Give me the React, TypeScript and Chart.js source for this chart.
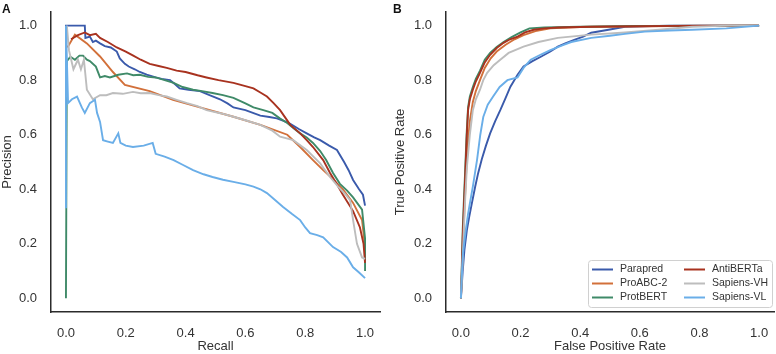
import React, { useEffect, useRef } from "react";
import { Chart, registerables } from "chart.js";

Chart.register(...registerables);

const FONT = 'Arial, "Liberation Sans", Helvetica, sans-serif';
const TEXT = "#333333";

const seriesLabels = ["Parapred", "ProABC-2", "ProtBERT", "AntiBERTa", "Sapiens-VH", "Sapiens-VL"];
const seriesColors = ["#3a5aab", "#d2703a", "#3f8a68", "#a8321f", "#bdbdbd", "#6aaee8"];
const tickValues = [0, 0.2, 0.4, 0.6, 0.8, 1.0];

// Precision-recall curves: [recall, precision]
const parapredPR = [
  [0, 0.34], [0, 1.0], [0.063, 1.0], [0.065, 0.955], [0.08, 0.96], [0.09, 0.94], [0.1, 0.945], [0.114, 0.935],
  [0.13, 0.925], [0.15, 0.92], [0.17, 0.905], [0.18, 0.88], [0.197, 0.86], [0.21, 0.85], [0.23, 0.84],
  [0.247, 0.83], [0.27, 0.82], [0.3, 0.81], [0.32, 0.805], [0.348, 0.8], [0.365, 0.785], [0.38, 0.77],
  [0.41, 0.765], [0.448, 0.76], [0.48, 0.745], [0.515, 0.73], [0.54, 0.715], [0.56, 0.7], [0.6, 0.69],
  [0.65, 0.67], [0.68, 0.665], [0.705, 0.66], [0.73, 0.65], [0.75, 0.64], [0.78, 0.62], [0.805, 0.605],
  [0.83, 0.59], [0.85, 0.58], [0.88, 0.56], [0.906, 0.544], [0.93, 0.5], [0.945, 0.47], [0.96, 0.434],
  [0.98, 0.4], [0.993, 0.38], [1.0, 0.34],
];
const proabcPR = [
  [0.005, 0.92], [0.03, 0.967], [0.07, 0.935], [0.114, 0.887], [0.157, 0.83], [0.197, 0.783],
  [0.28, 0.76], [0.358, 0.728], [0.448, 0.7], [0.56, 0.666], [0.65, 0.636], [0.74, 0.6],
  [0.783, 0.555], [0.826, 0.507], [0.86, 0.47], [0.89, 0.44], [0.926, 0.4], [0.96, 0.35],
  [0.99, 0.287], [1.0, 0.19], [1.0, 0.13],
];
const protbertPR = [
  [0, 0], [0.003, 0.87], [0.015, 0.886], [0.03, 0.875], [0.045, 0.89], [0.057, 0.89], [0.07, 0.875],
  [0.08, 0.87], [0.1, 0.85], [0.114, 0.81], [0.13, 0.815], [0.147, 0.81], [0.175, 0.82], [0.204, 0.825],
  [0.225, 0.818], [0.247, 0.82], [0.275, 0.812], [0.3, 0.81], [0.33, 0.8], [0.36, 0.79], [0.39, 0.775],
  [0.425, 0.765], [0.455, 0.76], [0.49, 0.753], [0.525, 0.745], [0.56, 0.735], [0.6, 0.715], [0.627, 0.7],
  [0.66, 0.69], [0.69, 0.68], [0.715, 0.66], [0.74, 0.643], [0.76, 0.625], [0.783, 0.605], [0.805, 0.59],
  [0.826, 0.57], [0.85, 0.54], [0.87, 0.507], [0.893, 0.46], [0.916, 0.42], [0.94, 0.395], [0.96, 0.37],
  [0.99, 0.325], [1.0, 0.22], [1.0, 0.1],
];
const antibertaPR = [
  [0.017, 0.95], [0.04, 0.965], [0.063, 0.975], [0.08, 0.965], [0.1, 0.97], [0.114, 0.955], [0.14, 0.94],
  [0.17, 0.92], [0.2, 0.905], [0.225, 0.89], [0.25, 0.875], [0.28, 0.86], [0.31, 0.852], [0.337, 0.845],
  [0.37, 0.835], [0.4, 0.83], [0.44, 0.818], [0.47, 0.81], [0.51, 0.8], [0.56, 0.79], [0.6, 0.778],
  [0.627, 0.77], [0.65, 0.755], [0.672, 0.74], [0.695, 0.715], [0.716, 0.69], [0.735, 0.66], [0.75, 0.636],
  [0.783, 0.605], [0.805, 0.58], [0.826, 0.555], [0.86, 0.507], [0.883, 0.46], [0.905, 0.42], [0.926, 0.38],
  [0.96, 0.32], [0.983, 0.26], [0.995, 0.2], [1.0, 0.13],
];
const sapiensVhPR = [
  [0.003, 1.0], [0.01, 0.91], [0.025, 0.84], [0.04, 0.875], [0.05, 0.84], [0.06, 0.875], [0.07, 0.765],
  [0.09, 0.73], [0.114, 0.745], [0.135, 0.745], [0.157, 0.753], [0.19, 0.75], [0.224, 0.757], [0.25, 0.752],
  [0.28, 0.753], [0.31, 0.745], [0.337, 0.74], [0.37, 0.728], [0.405, 0.716], [0.44, 0.705], [0.47, 0.69],
  [0.52, 0.678], [0.56, 0.666], [0.6, 0.653], [0.65, 0.636], [0.69, 0.615], [0.716, 0.593], [0.76, 0.58],
  [0.805, 0.544], [0.85, 0.495], [0.883, 0.445], [0.91, 0.41], [0.935, 0.38], [0.95, 0.36], [0.96, 0.287],
  [0.973, 0.2], [0.99, 0.15], [1.0, 0.145],
];
const sapiensVlPR = [
  [0, 0.33], [0, 1.0], [0.007, 0.716], [0.02, 0.73], [0.037, 0.74], [0.053, 0.7], [0.063, 0.68],
  [0.08, 0.716], [0.097, 0.728], [0.104, 0.68], [0.114, 0.647], [0.124, 0.58], [0.14, 0.575], [0.157, 0.57],
  [0.175, 0.605], [0.182, 0.57], [0.2, 0.56], [0.224, 0.555], [0.26, 0.56], [0.29, 0.57], [0.3, 0.53],
  [0.33, 0.52], [0.36, 0.507], [0.39, 0.49], [0.425, 0.47], [0.46, 0.455], [0.49, 0.445], [0.525, 0.435],
  [0.56, 0.427], [0.6, 0.418], [0.627, 0.41], [0.65, 0.4], [0.672, 0.386], [0.7, 0.36], [0.726, 0.335],
  [0.755, 0.31], [0.783, 0.287], [0.8, 0.26], [0.816, 0.239], [0.84, 0.232], [0.86, 0.224], [0.893, 0.188],
  [0.92, 0.17], [0.94, 0.15], [0.96, 0.114], [0.98, 0.095], [1.0, 0.074],
];

// ROC curves: [false positive rate, true positive rate]
const parapredROC = [
  [0, 0], [0.006, 0.1], [0.012, 0.18], [0.02, 0.25], [0.028, 0.3], [0.037, 0.35], [0.048, 0.41],
  [0.058, 0.46], [0.07, 0.51], [0.084, 0.56], [0.098, 0.605], [0.115, 0.65], [0.132, 0.69], [0.15, 0.735],
  [0.166, 0.776], [0.19, 0.82], [0.21, 0.85], [0.24, 0.87], [0.268, 0.886], [0.3, 0.905], [0.325, 0.923],
  [0.35, 0.935], [0.38, 0.948], [0.41, 0.96], [0.437, 0.974], [0.495, 0.985], [0.55, 0.996], [0.7, 1.0], [1.0, 1.0],
];
const proabcROC = [
  [0, 0], [0.004, 0.1], [0.008, 0.22], [0.012, 0.33], [0.018, 0.47], [0.024, 0.58], [0.03, 0.65],
  [0.04, 0.72], [0.05, 0.76], [0.064, 0.8], [0.08, 0.845], [0.1, 0.88], [0.12, 0.905], [0.15, 0.93],
  [0.18, 0.95], [0.21, 0.965], [0.25, 0.98], [0.3, 0.99], [0.4, 0.995], [0.6, 0.998], [1.0, 1.0],
];
const protbertROC = [
  [0, 0], [0.003, 0.12], [0.006, 0.25], [0.01, 0.36], [0.014, 0.46], [0.019, 0.6], [0.024, 0.7],
  [0.03, 0.74], [0.04, 0.775], [0.05, 0.805], [0.064, 0.835], [0.08, 0.875], [0.098, 0.9], [0.12, 0.922],
  [0.143, 0.94], [0.17, 0.958], [0.2, 0.975], [0.23, 0.99], [0.28, 0.993], [0.4, 0.996], [0.6, 0.999], [1.0, 1.0],
];
const antibertaROC = [
  [0, 0], [0.003, 0.1], [0.006, 0.22], [0.01, 0.33], [0.014, 0.434], [0.019, 0.58], [0.024, 0.69],
  [0.03, 0.73], [0.04, 0.765], [0.05, 0.795], [0.064, 0.827], [0.08, 0.865], [0.098, 0.893], [0.12, 0.918],
  [0.143, 0.937], [0.165, 0.95], [0.19, 0.96], [0.215, 0.975], [0.244, 0.985], [0.28, 0.99], [0.325, 0.993],
  [0.437, 0.996], [0.6, 0.998], [0.8, 1.0], [1.0, 1.0],
];
const sapiensVhROC = [
  [0, 0], [0.005, 0.12], [0.01, 0.26], [0.015, 0.38], [0.02, 0.48], [0.03, 0.6], [0.04, 0.69],
  [0.05, 0.73], [0.064, 0.765], [0.075, 0.8], [0.088, 0.827], [0.11, 0.855], [0.132, 0.875], [0.16, 0.9],
  [0.21, 0.923], [0.26, 0.94], [0.325, 0.955], [0.437, 0.967], [0.55, 0.975], [0.664, 0.985], [0.776, 0.996],
  [0.9, 1.0], [1.0, 1.0],
];
const sapiensVlROC = [
  [0, 0], [0.003, 0.08], [0.007, 0.165], [0.015, 0.24], [0.024, 0.31], [0.032, 0.36], [0.04, 0.41],
  [0.054, 0.507], [0.065, 0.6], [0.075, 0.665], [0.09, 0.71], [0.108, 0.74], [0.13, 0.775], [0.156, 0.8],
  [0.19, 0.81], [0.21, 0.845], [0.234, 0.875], [0.27, 0.895], [0.3, 0.91], [0.34, 0.928], [0.37, 0.94],
  [0.437, 0.955], [0.5, 0.963], [0.55, 0.97], [0.617, 0.978], [0.7, 0.982], [0.776, 0.985], [0.89, 0.99], [1.0, 1.0],
];

const prCurves = [parapredPR, proabcPR, protbertPR, antibertaPR, sapiensVhPR, sapiensVlPR];
const rocCurves = [parapredROC, proabcROC, protbertROC, antibertaROC, sapiensVhROC, sapiensVlROC];

function makeDatasets(curves: number[][][]) {
  return curves.map((c, i) => ({
    label: seriesLabels[i],
    data: c.map(([x, y]) => ({ x, y })),
    borderColor: seriesColors[i],
    backgroundColor: seriesColors[i],
    borderWidth: 1.9,
    pointRadius: 0,
    fill: false,
    tension: 0,
    order: curves.length - i,
  }));
}

function axis(title: string, isX: boolean, size: number, titlePad: number) {
  return {
    type: "linear",
    min: -0.05,
    max: 1.05,
    afterBuildTicks: (s: any) => {
      s.ticks = tickValues.map((v) => ({ value: v }));
    },
    afterFit: (s: any) => {
      if (isX) {
        s.height = size;
        s.paddingLeft = 0;
        s.paddingRight = 0;
      } else {
        s.width = size;
        s.paddingTop = 0;
        s.paddingBottom = 0;
      }
    },
    ticks: {
      font: { family: FONT, size: 13 },
      color: TEXT,
      padding: 14,
      maxRotation: 0,
      autoSkip: false,
      callback: (v: any) => Number(v).toFixed(1),
    },
    grid: { display: false, drawTicks: false },
    border: { display: true, color: "#2b2b2b", width: 1.5 },
    title: {
      display: true,
      text: title,
      color: TEXT,
      font: { family: FONT, size: 13 },
      padding: { top: titlePad, bottom: titlePad },
    },
  };
}

const boxLegend = {
  id: "boxLegend",
  afterDatasetsDraw(chart: any) {
    const ctx = chart.ctx;
    const ca = chart.chartArea;
    const w = 184;
    const h = 47;
    const x0 = ca.right - w - 2;
    const y0 = ca.bottom - h - 5;
    ctx.save();
    ctx.beginPath();
    if (ctx.roundRect) ctx.roundRect(x0 + 0.5, y0 + 0.5, w, h, 3);
    else ctx.rect(x0 + 0.5, y0 + 0.5, w, h);
    ctx.fillStyle = "rgba(255,255,255,0.85)";
    ctx.fill();
    ctx.strokeStyle = "#d0d0d0";
    ctx.lineWidth = 1;
    ctx.stroke();
    ctx.font = `10.5px ${FONT}`;
    ctx.textBaseline = "middle";
    ctx.textAlign = "left";
    chart.data.datasets.forEach((ds: any, i: number) => {
      const col = Math.floor(i / 3);
      const row = i % 3;
      const lx = x0 + 4 + col * 92;
      const ly = y0 + 9.5 + row * 14;
      ctx.strokeStyle = ds.borderColor;
      ctx.lineWidth = 2;
      ctx.beginPath();
      ctx.moveTo(lx, ly);
      ctx.lineTo(lx + 21, ly);
      ctx.stroke();
      ctx.fillStyle = TEXT;
      ctx.fillText(ds.label, lx + 28, ly);
    });
    ctx.restore();
  },
};

function Panel(props: {
  curves: number[][][];
  xTitle: string;
  yTitle: string;
  width: number;
  yAxisWidth: number;
  padRight: number;
  yTitlePad: number;
  legend: boolean;
}) {
  const ref = useRef<HTMLCanvasElement | null>(null);
  useEffect(() => {
    if (!ref.current) return;
    const chart = new Chart(ref.current, {
      type: "line",
      data: { datasets: makeDatasets(props.curves) as any },
      options: {
        responsive: false,
        animation: false,
        layout: { padding: { top: 12, right: props.padRight, left: 0, bottom: 0 } },
        plugins: { legend: { display: false }, tooltip: { enabled: false }, title: { display: false } },
        scales: {
          x: axis(props.xTitle, true, 42, 0) as any,
          y: axis(props.yTitle, false, props.yAxisWidth, props.yTitlePad) as any,
        },
      },
      plugins: props.legend ? [boxLegend] : [],
    });
    return () => chart.destroy();
  }, []);
  return <canvas ref={ref} width={props.width} height={354} style={{ display: "block" }} />;
}

export default function App() {
  const letter: React.CSSProperties = {
    position: "absolute",
    top: 2,
    fontFamily: FONT,
    fontWeight: "bold",
    fontSize: 12,
    color: "#111",
    lineHeight: "14px",
  };
  return (
    <div style={{ position: "fixed", left: 0, top: 0, width: 776, height: 354, background: "#fff", overflow: "hidden" }}>
      <div style={{ position: "absolute", left: 0, top: 0, width: 390, height: 354 }}>
        <Panel curves={prCurves} xTitle="Recall" yTitle="Precision" width={390} yAxisWidth={51} padRight={10} yTitlePad={0} legend={false} />
      </div>
      <div style={{ position: "absolute", left: 390, top: 0, width: 386, height: 354 }}>
        <Panel curves={rocCurves} xTitle="False Positive Rate" yTitle="True Positive Rate" width={386} yAxisWidth={56} padRight={2} yTitlePad={3} legend={true} />
      </div>
      <div style={{ ...letter, left: 2 }}>A</div>
      <div style={{ ...letter, left: 393 }}>B</div>
    </div>
  );
}
